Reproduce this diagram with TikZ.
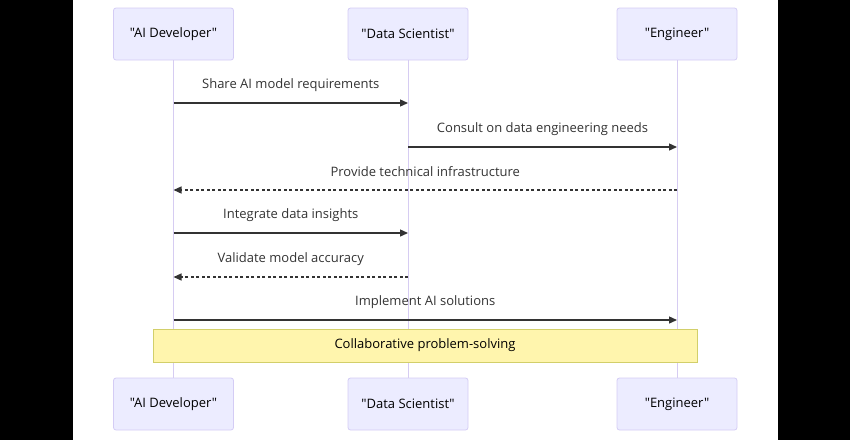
\documentclass[tikz,border=0pt]{standalone}
\usepackage{fontspec}
\setmainfont{Open Sans}[Ligatures=TeXOff]
\usetikzlibrary{arrows.meta}
\definecolor{actfill}{HTML}{ECECFF}
\definecolor{actline}{HTML}{D4CCF5}
\definecolor{lifeline}{HTML}{D6CCF2}
\definecolor{msgcol}{HTML}{333333}
\definecolor{notefill}{HTML}{FFF5AD}
\definecolor{noteline}{HTML}{D2CF6A}
\tikzset{
  x=1pt, y=-1pt,
  actor/.style={draw=actline, fill=actfill, rounded corners=2.5pt, line width=0.8pt,
    minimum width=120pt, minimum height=52pt, inner sep=0pt, font=\fontsize{13}{15}\selectfont, text=black},
  life/.style={draw=lifeline, line width=1pt},
  msg/.style={draw=msgcol, line width=1.3pt, -{Triangle[length=8pt,width=7pt]}},
  reply/.style={msg, dash pattern=on 3pt off 2.5pt},
  lbl/.style={font=\fontsize{13}{15}\selectfont, text=msgcol, inner sep=0pt},
  notebox/.style={draw=noteline, fill=notefill, line width=0.8pt, minimum width=544pt,
    minimum height=33pt, inner sep=0pt, font=\fontsize{13}{15}\selectfont, text=black}
}
\begin{document}
\begin{tikzpicture}
\useasboundingbox (0,0) rectangle (850,440);
\fill[black] (0,0) rectangle (73,440);
\fill[black] (778,0) rectangle (850,440);
% actors
\node[actor] (a1) at (173.5,34) {"AI Developer"};
\node[actor] (a2) at (408,34) {"Data Scientist"};
\node[actor] (a3) at (677,34) {"Engineer"};
\node[actor] (b1) at (173.5,404) {"AI Developer"};
\node[actor] (b2) at (408,404) {"Data Scientist"};
\node[actor] (b3) at (677,404) {"Engineer"};
\draw[life] (a1.south) -- (b1.north);
\draw[life] (a2.south) -- (b2.north);
\draw[life] (a3.south) -- (b3.north);
% message coordinates
\coordinate (s1) at (173.5,103); \coordinate (e1) at (408,103);
\coordinate (s2) at (408,147);   \coordinate (e2) at (677,147);
\coordinate (s3) at (677,190);   \coordinate (e3) at (173.5,190);
\coordinate (s4) at (173.5,233); \coordinate (e4) at (408,233);
\coordinate (s5) at (408,277);   \coordinate (e5) at (173.5,277);
\coordinate (s6) at (173.5,320); \coordinate (e6) at (677,320);
\draw[msg] (s1) -- (e1);
\draw[msg] (s2) -- (e2);
\draw[reply] (s3) -- (e3);
\draw[msg] (s4) -- (e4);
\draw[reply] (s5) -- (e5);
\draw[msg] (s6) -- (e6);
\node[lbl] (l1) at (290.75,85) {Share AI model requirements};
\node[lbl] (l2) at (542.5,129) {Consult on data engineering needs};
\node[lbl] (l3) at (425.25,172) {Provide technical infrastructure};
\node[lbl] (l4) at (290.75,215) {Integrate data insights};
\node[lbl] (l5) at (290.75,259) {Validate model accuracy};
\node[lbl] (l6) at (425.25,302) {Implement AI solutions};
\node[notebox] (n1) at (425,345.5) {Collaborative problem-solving};
\end{tikzpicture}
\end{document}
